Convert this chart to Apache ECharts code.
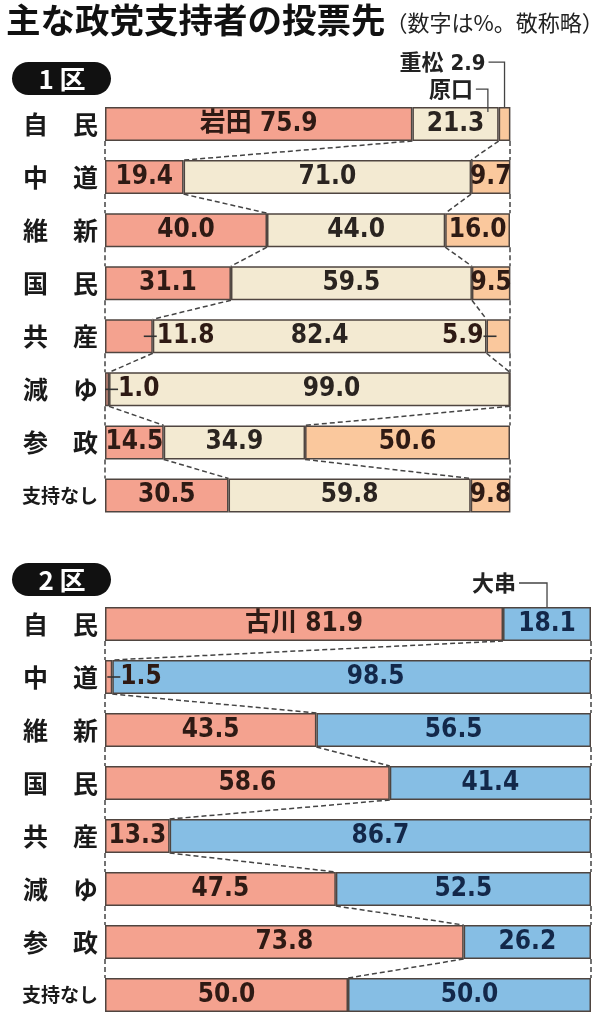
<!DOCTYPE html>
<html><head><meta charset="utf-8">
<script src="https://cdn.jsdelivr.net/npm/echarts/dist/echarts.min.js"></script>
<style>html,body{margin:0;padding:0;background:#fff}#c{width:600px;height:1023px}</style>
</head><body><div id="c"></div>
<script>
// ---- data ----
const categories = ['自　民','中　道','維　新','国　民','共　産','減　ゆ','参　政','支持なし'];
// 1区
const d1Iwata      = [75.9, 19.4, 40.0, 31.1, 11.8, 1.0, 14.5, 30.5];
const d1Haraguchi  = [21.3, 71.0, 44.0, 59.5, 82.4, 99.0, 34.9, 59.8];
const d1Shigematsu = [2.9, 9.7, 16.0, 9.5, 5.9, 0, 50.6, 9.8];
// 2区
const d2Furukawa = [81.9, 1.5, 43.5, 58.6, 13.3, 47.5, 73.8, 50.0];
const d2Ogushi   = [18.1, 98.5, 56.5, 41.4, 86.7, 52.5, 26.2, 50.0];
const candidates1 = ['岩田', '原口', '重松'];
const candidates2 = ['古川', '大串'];

// ---- styles ----
const NUMF = "'DejaVu Sans Condensed','Noto Sans CJK JP',sans-serif";
const CJK = "'Noto Sans CJK JP',sans-serif";
const C_RED = '#F4A28F', C_BEIGE = '#F3EAD2', C_ORANGE = '#FAC89D', C_BLUE = '#86BEE4';
const BORDER = '#4f4540';
const BAR = 34, HALF = 17;

function richFor(color) {
  return {
    v: {fontSize: 26, fontWeight: 'bold', fontFamily: NUMF, color: color},
    t: {width: 13, height: 1.6, backgroundColor: '#333', fontSize: 2}
  };
}
function fmt(p) { return '{v|' + p.value.toFixed(1) + '}'; }

function buildData(arr, overrides) {
  return arr.map((v, i) => overrides[i] ? Object.assign({value: v}, {label: overrides[i]}) : v);
}

const grid1 = {left: 105, width: 405, top: 97.5, height: 424.5};
const grid2 = {left: 105, width: 486, top: 597.5, height: 424};

function barSeries(name, data, color, gi, labelColor, overrides) {
  return {
    type: 'bar', name: name, stack: 's' + gi, xAxisIndex: gi, yAxisIndex: gi,
    barWidth: BAR, data: buildData(data, overrides),
    itemStyle: {color: color, borderColor: BORDER, borderWidth: 1.5},
    label: {show: true, position: 'inside', formatter: fmt, rich: richFor(labelColor)},
    emphasis: {disabled: true}, animation: false, z: 3
  };
}

// connector data
function connectors(seriesList) {
  const out = [];
  for (let i = 0; i < categories.length - 1; i++) {
    let c1 = 0, c2 = 0;
    out.push([0, i, 0]);
    for (let k = 0; k < seriesList.length; k++) {
      c1 += seriesList[k][i]; c2 += seriesList[k][i + 1];
      out.push([Math.min(c1, 100), i, Math.min(c2, 100)]);
    }
  }
  return out;
}
function connRender(params, api) {
  const p1 = api.coord([api.value(0), api.value(1)]);
  const p2 = api.coord([api.value(2), api.value(1) + 1]);
  return {type: 'line', shape: {x1: p1[0], y1: p1[1] + HALF, x2: p2[0], y2: p2[1] - HALF},
    style: {stroke: '#444', lineWidth: 1.5, lineDash: [5, 3]}};
}

// annotations: [xValue, row, index]
const ann1Text = [candidates1[2] + ' ' + d1Shigematsu[0].toFixed(1), candidates1[1]];
const ann1Data = [
  [d1Iwata[0] + d1Haraguchi[0] + d1Shigematsu[0] / 2, 0, 0],
  [d1Iwata[0] + d1Haraguchi[0] * 0.875, 0, 1]
];
const ann1Geo = [{dy: 45, len: 16, dip: 0}, {dy: 18, len: 12, dip: 5}];
const ann2Text = [candidates2[1]];
const ann2Data = [[d2Furukawa[0] + d2Ogushi[0] / 2, 0, 0]];
const ann2Geo = [{dy: 24, len: 28, dip: 0}];

function annRender(texts, geo) {
  return function (params, api) {
    const idx = api.value(2);
    const p = api.coord([api.value(0), api.value(1)]);
    const g = geo[idx];
    const top = p[1] - HALF;
    const ty = top - g.dy;
    const lx = p[0];
    const sx = lx - g.len;
    return {type: 'group', children: [
      {type: 'polyline', shape: {points: [[sx, ty], [lx, ty], [lx, top + g.dip]]},
        style: {stroke: '#444', lineWidth: 1.3, fill: null}},
      {type: 'text', style: {text: texts[idx], x: sx - 3, y: ty + 2, align: 'right', verticalAlign: 'middle',
        font: 'bold 22px ' + NUMF, fill: '#222'}}
    ]};
  };
}

function yAxis(gi) {
  return {
    type: 'category', gridIndex: gi, data: categories, inverse: true,
    axisLine: {show: false}, axisTick: {show: false},
    axisLabel: {
      margin: 7,
      formatter: v => v === '支持なし' ? '{s|' + v + '}' : '{n|' + v + '}',
      rich: {
        n: {fontSize: 25, fontWeight: 'bold', fontFamily: CJK, color: '#1a1a1a'},
        s: {fontSize: 19, fontWeight: 'bold', fontFamily: CJK, color: '#1a1a1a'}
      }
    }
  };
}
function xAxis(gi) {
  return {type: 'value', gridIndex: gi, min: 0, max: 100, show: false};
}

const tickR = d => ({position: 'right', distance: d, formatter: p => '{t| }{v|' + p.value.toFixed(1) + '}'});
const tickL = d => ({position: 'left', distance: d, formatter: p => '{v|' + p.value.toFixed(1) + '}{t| }'});
const named = (n) => ({formatter: p => '{v|' + n + ' ' + p.value.toFixed(1) + '}'});

function badge(text, y) {
  return {type: 'group', left: 12, top: y, children: [
    {type: 'rect', shape: {x: 0, y: 0, width: 99, height: 33, r: 16.5}, style: {fill: '#111'}},
    {type: 'text', style: {text: text, x: 50, y: 17, align: 'center', verticalAlign: 'middle',
      font: 'bold 26px ' + CJK, fill: '#fff'}}
  ]};
}

const chart = echarts.init(document.getElementById('c'), null, {renderer: 'canvas'});
chart.setOption({
  backgroundColor: '#fff',
  animation: false,
  grid: [grid1, grid2],
  xAxis: [xAxis(0), xAxis(1)],
  yAxis: [yAxis(0), yAxis(1)],
  graphic: [
    {type: 'text', left: 6, top: 3, style: {
      text: '{a|主な政党支持者の投票先}{b|（数字は%。敬称略）}',
      rich: {
        a: {fontSize: 34.5, fontWeight: 'bold', fontFamily: CJK, fill: '#111', color: '#111'},
        b: {fontSize: 22, fontFamily: CJK, fill: '#222', color: '#222', padding: [5, 0, 0, 0]}
      }
    }},
    badge('1 区', 62),
    badge('2 区', 563)
  ],
  series: [
    barSeries(candidates1[0], d1Iwata, C_RED, 0, '#2e1a14',
      {0: named(candidates1[0]), 4: tickR(-9), 5: tickR(-4)}),
    barSeries(candidates1[1], d1Haraguchi, C_BEIGE, 0, '#2a2420',
      {5: {offset: [22, 0]}}),
    barSeries(candidates1[2], d1Shigematsu, C_ORANGE, 0, '#2e1a14',
      {0: {show: false}, 4: tickL(-10), 5: {show: false}}),
    barSeries(candidates2[0], d2Furukawa, C_RED, 1, '#2e1a14',
      {0: named(candidates2[0]), 1: tickR(-5)}),
    barSeries(candidates2[1], d2Ogushi, C_BLUE, 1, '#13284a',
      {1: {offset: [24, 0]}}),
    {type: 'custom', xAxisIndex: 0, yAxisIndex: 0, renderItem: connRender,
      data: connectors([d1Iwata, d1Haraguchi, d1Shigematsu]), encode: {x: [0, 2], y: 1}, z: 1, silent: true},
    {type: 'custom', xAxisIndex: 1, yAxisIndex: 1, renderItem: connRender,
      data: connectors([d2Furukawa, d2Ogushi]), encode: {x: [0, 2], y: 1}, z: 1, silent: true},
    {type: 'custom', xAxisIndex: 0, yAxisIndex: 0, renderItem: annRender(ann1Text, ann1Geo),
      data: ann1Data, encode: {x: 0, y: 1}, z: 5, silent: true, clip: false},
    {type: 'custom', xAxisIndex: 1, yAxisIndex: 1, renderItem: annRender(ann2Text, ann2Geo),
      data: ann2Data, encode: {x: 0, y: 1}, z: 5, silent: true, clip: false}
  ]
});
</script>
</body></html>
